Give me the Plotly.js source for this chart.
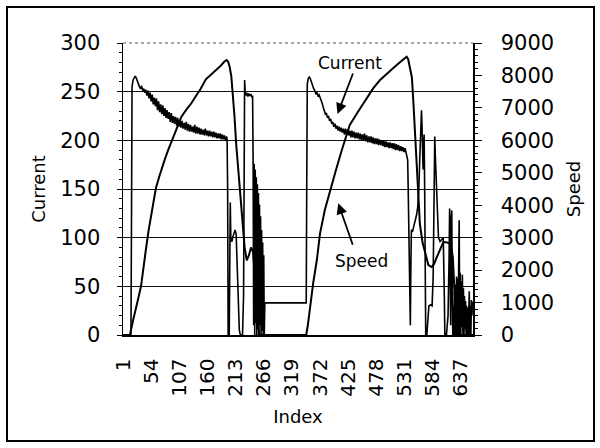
<!DOCTYPE html>
<html>
<head>
<meta charset="utf-8">
<script src="https://cdn.plot.ly/plotly-3.0.1.min.js"></script>
<style>html,body{margin:0;padding:0;background:#fff;}#chart{width:600px;height:448px;}</style>
</head>
<body>
<div id="chart"></div>
<script>
// ---- data ----
const tickLabels = ["1","54","107","160","213","266","319","372","425","478","531","584","637"];
const tickIndex = [1,54,107,160,213,266,319,372,425,478,531,584,637];

const currentIndex = [
  1,16,17,
  18,20,22,24,26,28,30,32,34,36,38,40,42,44,46,48,50,52,54,56,58,60,62,64,66,68,70,72,74,76,78,80,82,84,86,88,90,92,94,96,98,100,
  102,104,106,108,110,112,114,116,118,120,122,124,126,128,130,132,134,136,138,140,142,144,146,148,150,152,154,156,158,160,162,164,166,168,170,172,174,176,178,180,182,184,186,188,190,192,194,196,
  197,
  198,199,201,202,203,204,206,208,210,212,214,216,218,220,222,226,228,229,230,231,232,234,236,238,240,242,244,245,
  246,247,248,249,250,251,252,253,254,255,256,257,258,259,260,261,262,263,264,265,266,267,268,
  346,347,
  348,350,352,354,356,358,360,362,364,366,368,370,372,374,376,378,380,382,384,386,388,390,392,394,396,398,400,402,404,406,408,410,412,414,416,418,420,422,424,426,428,430,432,434,436,438,440,
  442,444,446,448,450,452,454,456,458,460,462,464,466,468,470,472,474,476,478,480,482,484,486,488,490,492,494,496,498,500,502,504,506,508,510,512,514,516,518,520,522,524,526,528,530,532,534,536,
  537,538,539,540,541,542,543,544,546,548,550,552,554,556,558,560,562,563,564,566,567,568,569,570,571,573,575,577,580,583,585,587,588,589,591,593,595,598,601,604,606,607,610,613,615,616,617,618,619,620,621,622,623,624,
  625,626,627,628,629,630,631,632,633,634,635,636,637,638,639,640,641,642,643,644,645,646,647,648,649,650,651,652,653,654,655,656,657,658,659,660
];
const currentValues = [
  0,0,120,
  255,262,265,266,264,260,258,255,253,256,251,253,249,252,246,251,243,249,240,247,237,244,235,243,231,240,229,237,227,236,225,233,223,231,222,229,219,228,218,225,217,224,
  215,223,214,221,213,220,212,218,211,219,210,217,209,216,209,214,208,216,207,214,207,213,206,212,206,211,205,212,205,210,204,210,204,209,203,209,203,208,202,207,202,207,201,206,201,205,200,204,
  201,
  150,0,0,70,136,98,96,101,104,108,104,70,30,5,0,0,40,150,262,250,246,249,245,248,246,247,244,246,
  180,10,176,0,170,12,162,0,155,6,146,0,134,10,122,0,108,4,95,0,82,0,33,
  33,160,
  258,264,265,263,259,256,253,251,248,249,246,247,244,243,238,234,230,227,228,223,225,220,222,217,219,214,217,212,215,210,214,209,213,208,212,206,212,206,211,205,210,203,210,203,209,202,208,
  202,208,201,207,200,206,200,207,199,205,198,204,198,204,197,203,196,202,196,202,195,201,195,200,194,200,193,199,193,198,192,198,192,197,191,197,190,196,190,195,189,194,189,193,188,192,187,185,
  180,150,118,112,60,10,70,108,106,110,114,118,124,132,150,185,225,231,215,170,195,206,150,60,0,0,22,30,31,30,60,170,204,185,150,118,100,96,98,100,40,0,0,20,80,130,60,10,120,128,40,0,30,0,
  45,0,52,0,60,5,58,0,70,118,0,64,0,55,8,62,0,48,0,40,6,35,0,30,0,28,0,38,45,0,30,0,36,20,34,30
];

const speedIndex = [1,14,20,25,30,35,40,44,49,54,58,63,69,74,80,86,93,102,111,121,130,138,147,157,167,176,185,192,196,199,202,205,208,211,214,218,222,226,230,234,238,242,246,249,252,255,258,346,349,353,359,366,372,381,392,402,413,421,428,442,460,472,485,498,510,523,535,538,541,545,548,551,555,560,565,570,576,582,587,592,598,604,610,614,618,622,625,628,630,660];
const speedValues = [0,0,450,770,1150,1510,2050,2620,3200,3700,4120,4530,4870,5150,5430,5700,6000,6400,6728,6960,7150,7360,7580,7880,8030,8150,8300,8430,8476,8420,8250,7961,7449,6728,5908,5085,4161,3340,2700,2300,2450,2700,2550,1900,1000,350,0,0,300,872,1593,2311,3134,3852,4530,5085,5700,6100,6472,6842,7304,7600,7859,8060,8229,8414,8577,8500,8250,7930,7100,6225,4800,3420,2850,2496,2157,2096,2200,2404,2650,2857,2860,2835,2780,2404,1387,339,0,0];

const currentTicks = [0,50,100,150,200,250,300];
const gridTicks = [50,100,150,200,250];

// ---- chart ----
const traces = [
  {x: currentIndex, y: currentValues, type: 'scatter', mode: 'lines', name: 'Current',
   line: {color: '#000', width: 1.6}, yaxis: 'y', hoverinfo: 'skip'},
  {x: speedIndex, y: speedValues, type: 'scatter', mode: 'lines', name: 'Speed',
   line: {color: '#000', width: 2}, yaxis: 'y2', hoverinfo: 'skip'},
  {x: [], y: [], type: 'scatter', mode: 'lines', yaxis: 'y3', hoverinfo: 'skip', showlegend: false}
];

const FONT = 'DejaVu Sans, Liberation Sans, Arial, sans-serif';
const layout = {
  width: 600, height: 448,
  margin: {l: 123, r: 127, t: 43, b: 113, pad: 0},
  paper_bgcolor: '#fff', plot_bgcolor: 'rgba(0,0,0,0)',
  showlegend: false,
  font: {family: FONT, color: '#000'},
  xaxis: {
    range: [1, 660], tickmode: 'array', tickvals: tickIndex, ticktext: tickLabels,
    tickangle: -90, tickfont: {size: 20}, ticklabelstandoff: 14,
    showline: true, linecolor: '#000', linewidth: 1.5, ticks: '',
    showgrid: false, zeroline: false, automargin: false,
    title: {text: 'Index', font: {size: 18}, standoff: 14}
  },
  yaxis: {
    range: [0, 300], tickmode: 'array', tickvals: currentTicks,
    showgrid: false, zeroline: false, showline: true, linecolor: '#000', linewidth: 1.5,
    ticks: 'outside', ticklen: 5, tickcolor: '#000', tickwidth: 1,
    minor: {dtick: 10, ticks: 'outside', ticklen: 3, tickcolor: '#000', showgrid: false},
    tickfont: {size: 21}, ticklabelstandoff: 12, automargin: false,
    title: {text: 'Current', font: {size: 18}, standoff: 10}
  },
  yaxis2: {
    overlaying: 'y', side: 'right', range: [0, 9000], dtick: 1000, tick0: 0,
    showgrid: false, zeroline: false, showline: true, linecolor: '#000', linewidth: 1.5,
    ticks: 'outside', ticklen: 7, tickcolor: '#000', tickwidth: 1,
    minor: {dtick: 200, ticks: 'outside', ticklen: 3, tickcolor: '#000', showgrid: false},
    tickfont: {size: 21}, ticklabelstandoff: 15, automargin: false,
    title: {text: 'Speed', font: {size: 18}, standoff: 14}
  },
  yaxis3: {
    overlaying: 'y', range: [0, 300], tickmode: 'array', tickvals: gridTicks,
    showgrid: true, gridcolor: '#111', gridwidth: 1, showticklabels: false,
    ticks: '', showline: false, zeroline: false, fixedrange: true
  },
  shapes: [
    {type: 'line', xref: 'paper', yref: 'paper', x0: 0, x1: 1, y0: 1, y1: 1,
     line: {color: '#555', width: 1, dash: 'dot'}},
    {type: 'rect', xref: 'paper', yref: 'paper', x0: -0.3314, x1: 1.3457, y0: -0.363, y1: 1.1233,
     line: {color: '#000', width: 2}}
  ],
  annotations: [
    {xref: 'paper', yref: 'paper', x: 0.6486, y: 0.9305, xanchor: 'center', yanchor: 'middle',
     text: 'Current', showarrow: false, font: {size: 17, family: FONT}},
    {xref: 'paper', yref: 'paper', x: 0.6129, y: 0.7568, text: '', showarrow: true,
     ax: 16, ay: -42, arrowhead: 2, arrowsize: 1.2, arrowwidth: 1.8, arrowcolor: '#000'},
    {xref: 'paper', yref: 'paper', x: 0.68, y: 0.2545, xanchor: 'center', yanchor: 'middle',
     text: 'Speed', showarrow: false, font: {size: 17, family: FONT}},
    {xref: 'paper', yref: 'paper', x: 0.615, y: 0.451, text: '', showarrow: true,
     ax: 15, ay: 43, arrowhead: 2, arrowsize: 1.2, arrowwidth: 1.8, arrowcolor: '#000'}
  ]
};

Plotly.newPlot('chart', traces, layout, {staticPlot: true, displayModeBar: false});
</script>
</body>
</html>
